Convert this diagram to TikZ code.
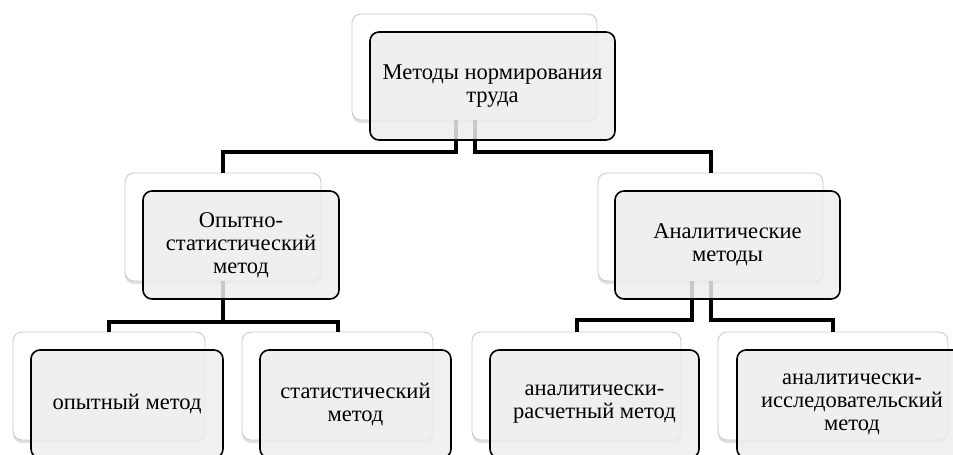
\documentclass[tikz,border=0pt]{standalone}
\usepackage{fontspec}
\setmainfont{Liberation Serif}
\usetikzlibrary{shadows}

\tikzset{
    backbox/.style={draw=black!22, line width=0.8pt, fill=white, rounded corners=9pt,
        inner sep=0pt, minimum height=108pt,
        drop shadow={opacity=0.25, shadow xshift=0pt, shadow yshift=-3pt}},
    frontbox/.style={draw=black, line width=1.6pt, fill=black!7, fill opacity=0.85,
        text opacity=1, draw opacity=1, rounded corners=9pt, inner sep=0pt,
        minimum height=108pt, align=center, text=black,
        font=\fontsize{22.5}{23}\selectfont},
    conn/.style={line width=4pt, black}
}

\begin{document}
\begin{tikzpicture}[x=1pt, y=-1pt]

    \clip (0,0) rectangle (953,455);

    % Back boxes
    \node[backbox, minimum width=245pt, minimum height=106pt] (normB) at (474.5,67) {};
    \node[backbox, minimum width=196pt] (opstB) at (223,227) {};
    \node[backbox, minimum width=225pt] (analB) at (710.5,227) {};
    \node[backbox, minimum width=192pt] (opytB) at (109,386) {};
    \node[backbox, minimum width=191pt] (statB) at (337.5,386) {};
    \node[backbox, minimum width=209pt] (rasB) at (576.5,386) {};
    \node[backbox, minimum width=230pt] (issB) at (833,386) {};

    % Connectors, level 1
    \draw[conn] ([xshift=-19pt]normB.south) -- ++(0,32) -| (opstB.north);
    \draw[conn] (normB.south) -- ++(0,32) -| (analB.north);

    % Connectors, level 2
    \draw[conn] (opstB.south) -- ++(0,41) -| (opytB.north);
    \draw[conn] (opstB.south) -- ++(0,41) -| (statB.north);
    \draw[conn] ([xshift=-19pt]analB.south) -- ++(0,39) -| (rasB.north);
    \draw[conn] (analB.south) -- ++(0,39) -| (issB.north);

    % Front boxes with the texts
    \node[frontbox, minimum width=245pt]
        (norm) at ([xshift=18pt,yshift=-19pt]normB.center) {Методы нормирования\\труда};
    \node[frontbox, minimum width=196pt]
        (opst) at ([xshift=18pt,yshift=-18pt]opstB.center) {Опытно-\\статистический\\метод};
    \node[frontbox, minimum width=225pt]
        (anal) at ([xshift=17pt,yshift=-18pt]analB.center) {Аналитические\\методы};
    \node[frontbox, minimum width=192pt]
        (opyt) at ([xshift=18pt,yshift=-18pt]opytB.center) {опытный метод};
    \node[frontbox, minimum width=191pt]
        (stat) at ([xshift=18pt,yshift=-18pt]statB.center) {статистический\\метод};
    \node[frontbox, minimum width=209pt]
        (ras) at ([xshift=18pt,yshift=-18pt]rasB.center) {аналитически-\\расчетный метод};
    \node[frontbox, minimum width=230pt]
        (iss) at ([xshift=19pt,yshift=-18pt]issB.center) {аналитически-\\исследовательский\\метод};

\end{tikzpicture}
\end{document}
